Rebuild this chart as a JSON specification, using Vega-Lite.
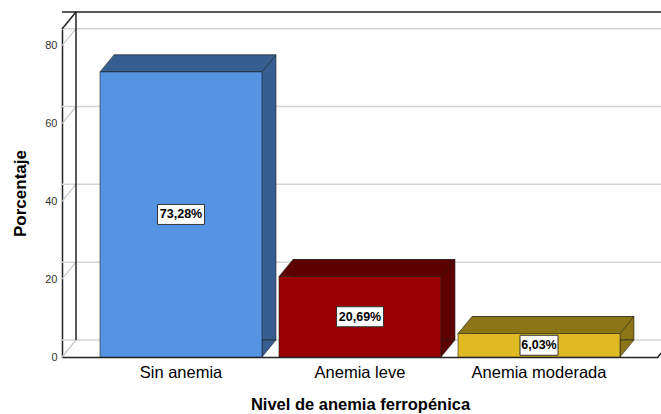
{
  "$schema": "https://vega.github.io/schema/vega-lite/v6.json",
  "autosize": "none",
  "width": 596,
  "height": 328,
  "padding": {"left": 62, "top": 29, "right": 3, "bottom": 57},
  "background": "white",
  "config": {
    "view": {"stroke": null},
    "font": "Liberation Sans",
    "axis": {"domainColor": "#222222", "domainWidth": 1.5, "ticks": false, "grid": false},
    "axisY": {"labelFontSize": 11, "labelColor": "#333333", "labelPadding": 5,
      "titleFontSize": 17, "titleFontWeight": "bold", "titleColor": "#000000", "titlePadding": 15},
    "axisX": {"labelAngle": 0, "labelFontSize": 16.5, "labelColor": "#000000", "labelPadding": 7,
      "titleFontSize": 16.5, "titleFontWeight": "bold", "titleColor": "#000000", "titlePadding": 16}
  },
  "datasets": {
    "barras": [
      {"nivel": "Sin anemia", "porcentaje": 73.28, "etiqueta": "73,28%"},
      {"nivel": "Anemia leve", "porcentaje": 20.69, "etiqueta": "20,69%"},
      {"nivel": "Anemia moderada", "porcentaje": 6.03, "etiqueta": "6,03%"}
    ],
    "marcas": [{"v": 0}, {"v": 20}, {"v": 40}, {"v": 60}, {"v": 80}]
  },
  "resolve": {"scale": {"color": "independent"}},
  "layer": [
    {
      "data": {"name": "marcas"},
      "mark": {"type": "rule", "stroke": "#d4d4d4", "strokeWidth": 1.5, "xOffset": 14, "yOffset": -17},
      "encoding": {
        "y": {"field": "v", "type": "quantitative", "scale": {"domain": [0, 84.3], "nice": false},
          "axis": {"title": "Porcentaje", "values": [0, 20, 40, 60, 80]}}
      }
    },
    {
      "data": {"name": "marcas"},
      "mark": {"type": "point", "shape": "M0,0L14,-17", "size": 4, "filled": false, "stroke": "#c8c8c8", "strokeWidth": 1.2, "opacity": 1},
      "encoding": {
        "x": {"value": 0},
        "y": {"field": "v", "type": "quantitative", "axis": {"title": "Porcentaje", "values": [0, 20, 40, 60, 80]}}
      }
    },
    {
      "data": {"values": [{}]},
      "mark": {"type": "point", "shape": "M0,0L14,-17", "size": 4, "filled": false, "stroke": "#222222", "strokeWidth": 1.5, "opacity": 1},
      "encoding": {
        "x": {"value": 0},
        "y": {"datum": 84.3, "type": "quantitative", "axis": {"title": "Porcentaje", "values": [0, 20, 40, 60, 80]}}
      }
    },
    {
      "data": {"values": [{}]},
      "mark": {"type": "point", "shape": "M0,0L14,-17", "size": 4, "filled": false, "stroke": "#222222", "strokeWidth": 1.5, "opacity": 1},
      "encoding": {
        "x": {"value": 596},
        "y": {"datum": 0, "type": "quantitative", "axis": {"title": "Porcentaje", "values": [0, 20, 40, 60, 80]}}
      }
    },
    {
      "data": {"values": [{}]},
      "mark": {"type": "rule", "stroke": "#222222", "strokeWidth": 1.5, "xOffset": 14, "yOffset": -17},
      "encoding": {
        "y": {"datum": 84.3, "type": "quantitative", "axis": {"title": "Porcentaje", "values": [0, 20, 40, 60, 80]}}
      }
    },
    {
      "data": {"values": [{}]},
      "mark": {"type": "rule", "stroke": "#222222", "strokeWidth": 1.5, "xOffset": 14, "yOffset": -17, "y2Offset": -17},
      "encoding": {
        "x": {"value": 0},
        "y": {"datum": 0, "type": "quantitative", "axis": {"title": "Porcentaje", "values": [0, 20, 40, 60, 80]}},
        "y2": {"datum": 84.3}
      }
    },
    {
      "data": {"name": "barras"},
      "mark": {"type": "bar", "xOffset": 14, "yOffset": -17, "y2Offset": -17, "stroke": "#222222", "strokeWidth": 0.6},
      "encoding": {
        "x": {"field": "nivel", "type": "nominal", "sort": ["Sin anemia", "Anemia leve", "Anemia moderada"],
          "scale": {"paddingInner": 0.095, "paddingOuter": 0.2123},
          "axis": {"title": "Nivel de anemia ferropénica"}},
        "y": {"field": "porcentaje", "type": "quantitative", "axis": {"title": "Porcentaje", "values": [0, 20, 40, 60, 80]}},
        "color": {"field": "nivel", "type": "nominal", "legend": null,
          "scale": {"domain": ["Sin anemia", "Anemia leve", "Anemia moderada"], "range": ["#365E91", "#5C0000", "#8C7516"]}}
      }
    },
    {
      "data": {"name": "barras"},
      "mark": {"type": "point", "shape": "M-81,0L81,0L95,-17L-67,-17Z", "size": 4, "filled": true, "opacity": 1, "stroke": "#222222", "strokeWidth": 0.6},
      "encoding": {
        "x": {"field": "nivel", "type": "nominal", "sort": ["Sin anemia", "Anemia leve", "Anemia moderada"], "axis": {"title": "Nivel de anemia ferropénica"}},
        "y": {"field": "porcentaje", "type": "quantitative", "axis": {"title": "Porcentaje", "values": [0, 20, 40, 60, 80]}},
        "color": {"field": "nivel", "type": "nominal", "legend": null,
          "scale": {"domain": ["Sin anemia", "Anemia leve", "Anemia moderada"], "range": ["#365E91", "#5C0000", "#8C7516"]}}
      }
    },
    {
      "data": {"name": "barras"},
      "mark": {"type": "point", "shape": "M81,0L81,-17L95,-17Z", "size": 4, "filled": true, "opacity": 1, "stroke": "#222222", "strokeWidth": 0.6},
      "encoding": {
        "x": {"field": "nivel", "type": "nominal", "sort": ["Sin anemia", "Anemia leve", "Anemia moderada"], "axis": {"title": "Nivel de anemia ferropénica"}},
        "y": {"datum": 0, "type": "quantitative", "axis": {"title": "Porcentaje", "values": [0, 20, 40, 60, 80]}},
        "color": {"field": "nivel", "type": "nominal", "legend": null,
          "scale": {"domain": ["Sin anemia", "Anemia leve", "Anemia moderada"], "range": ["#365E91", "#5C0000", "#8C7516"]}}
      }
    },
    {
      "data": {"name": "barras"},
      "mark": {"type": "bar", "stroke": "#222222", "strokeWidth": 0.6},
      "encoding": {
        "x": {"field": "nivel", "type": "nominal", "sort": ["Sin anemia", "Anemia leve", "Anemia moderada"], "axis": {"title": "Nivel de anemia ferropénica"}},
        "y": {"field": "porcentaje", "type": "quantitative", "axis": {"title": "Porcentaje", "values": [0, 20, 40, 60, 80]}},
        "color": {"field": "nivel", "type": "nominal", "legend": null,
          "scale": {"domain": ["Sin anemia", "Anemia leve", "Anemia moderada"], "range": ["#5594E2", "#990000", "#E0BA22"]}}
      }
    },
    {
      "data": {"name": "barras"},
      "transform": [{"calculate": "datum.porcentaje / 2", "as": "medio"}],
      "mark": {"type": "point", "size": 4, "filled": true, "opacity": 1, "fill": "#ffffff", "stroke": "#333333", "strokeWidth": 1},
      "encoding": {
        "x": {"field": "nivel", "type": "nominal", "sort": ["Sin anemia", "Anemia leve", "Anemia moderada"], "axis": {"title": "Nivel de anemia ferropénica"}},
        "y": {"field": "medio", "type": "quantitative", "axis": {"title": "Porcentaje", "values": [0, 20, 40, 60, 80]}},
        "shape": {"condition": {"test": "datum.porcentaje < 10", "value": "M-19,-10L19,-10L19,10L-19,10Z"}, "value": "M-23.5,-10L23.5,-10L23.5,10L-23.5,10Z"}
      }
    },
    {
      "data": {"name": "barras"},
      "transform": [{"calculate": "datum.porcentaje / 2", "as": "medio"}],
      "mark": {"type": "text", "fontSize": 12.5, "fontWeight": "bold", "color": "#000000", "font": "Liberation Sans"},
      "encoding": {
        "x": {"field": "nivel", "type": "nominal", "sort": ["Sin anemia", "Anemia leve", "Anemia moderada"], "axis": {"title": "Nivel de anemia ferropénica"}},
        "y": {"field": "medio", "type": "quantitative", "axis": {"title": "Porcentaje", "values": [0, 20, 40, 60, 80]}},
        "text": {"field": "etiqueta"}
      }
    }
  ]
}
